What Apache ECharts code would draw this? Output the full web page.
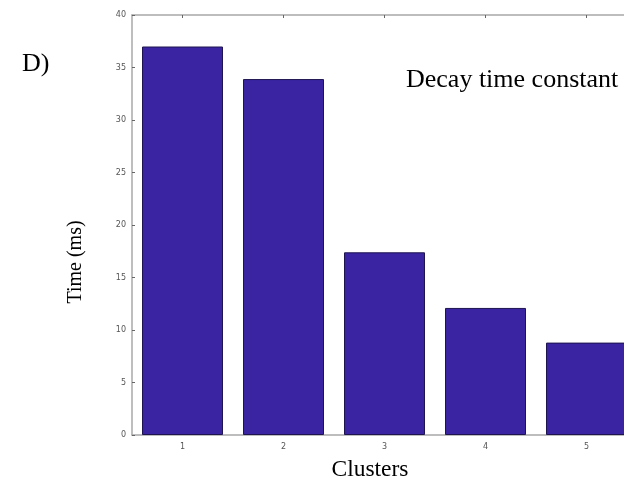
<!DOCTYPE html>
<html><head><meta charset="utf-8">
<script src="https://cdn.jsdelivr.net/npm/echarts@6/dist/echarts.min.js"></script>
<style>html,body{margin:0;padding:0;background:#fff}#c{width:624px;height:483px}</style>
</head><body><div id="c"></div>
<script>
const categories = [1, 2, 3, 4, 5];
const decayTime = [37.0, 33.9, 17.4, 12.1, 8.8];
const yTicks = {min:0, max:40, interval:5};

const chart = echarts.init(document.getElementById('c'), null, {renderer:'canvas'});
const axisGray = '#a8a8a8';
const serif = '"Liberation Serif", "Times New Roman", serif';
// plot area continues past the right edge of the picture: 5 categories span 505px
const xMin = 0.5, xMax = 0.5 + 492 / 101;
const xAxisCommon = {type:'value', min:xMin, max:xMax, splitLine:{show:false},
  axisLine:{lineStyle:{color:axisGray, width:1.5}},
  axisTick:{inside:true, length:3, customValues:categories, lineStyle:{color:'#666'}}};
chart.setOption({
  animation:false,
  backgroundColor:'#fff',
  grid:{left:132, top:15, right:0, bottom:48, containLabel:false},
  graphic:[
    {type:'text', x:22, y:64, style:{text:'D)', font:'26px '+serif, fill:'#000', verticalAlign:'middle'}},
    {type:'text', x:406, y:80, style:{text:'Decay time constant', font:'26px '+serif, fill:'#000', verticalAlign:'middle'}},
    {type:'text', x:76, y:262, rotation:Math.PI/2, style:{text:'Time (ms)', font:'20px '+serif, fill:'#000', align:'center', verticalAlign:'middle'}},
    {type:'text', x:370, y:470, style:{text:'Clusters', font:'23.5px '+serif, fill:'#000', align:'center', verticalAlign:'middle'}}
  ],
  xAxis:[
    Object.assign({}, xAxisCommon, {position:'bottom',
     axisLabel:{color:'#555', fontSize:8, margin:8, fontFamily:'DejaVu Sans', customValues:categories}}),
    Object.assign({}, xAxisCommon, {position:'top', axisLabel:{show:false}})
  ],
  yAxis:{type:'value', min:yTicks.min, max:yTicks.max, interval:yTicks.interval,
     axisLine:{show:true, lineStyle:{color:axisGray, width:1.5}},
     axisTick:{show:true, inside:true, length:3, lineStyle:{color:'#666'}},
     splitLine:{show:false},
     axisLabel:{color:'#555', fontSize:8, margin:6, fontFamily:'DejaVu Sans'}},
  series:[{type:'bar', xAxisIndex:0, clip:true,
     data:categories.map((c,i)=>[c, decayTime[i]]), barWidth:81,
     itemStyle:{color:'#3a24a2', borderColor:'#1e1450', borderWidth:1}}]
});
</script></body></html>
